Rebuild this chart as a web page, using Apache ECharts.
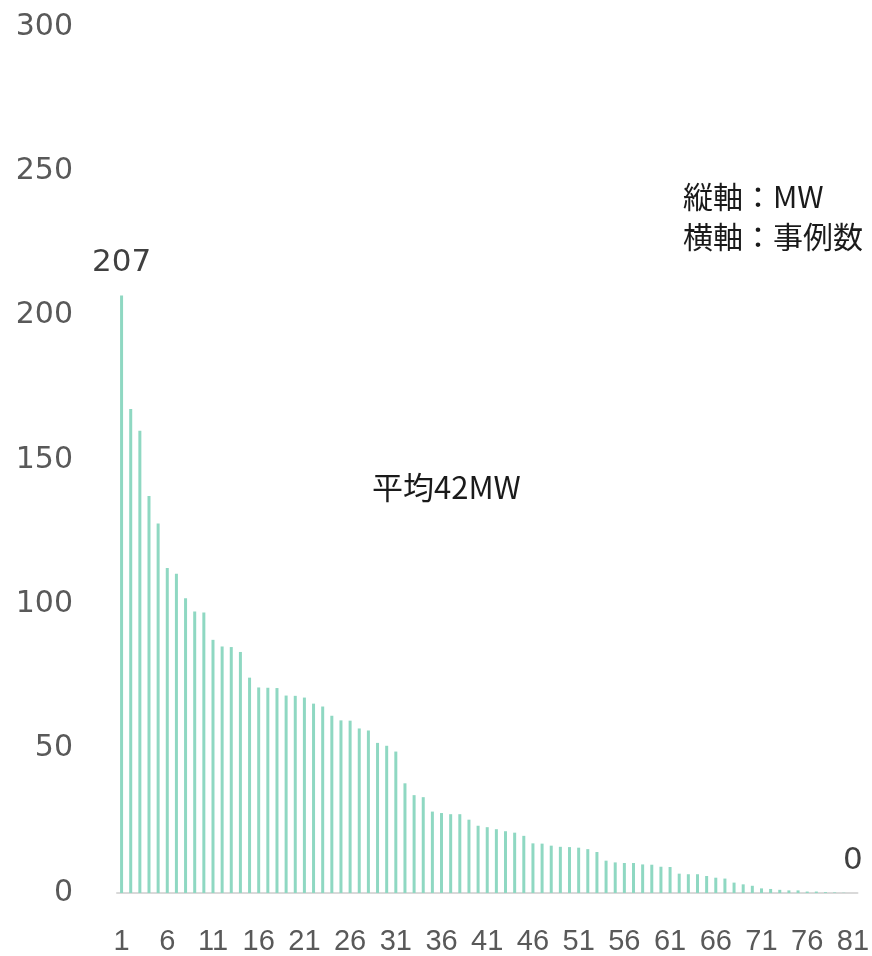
<!DOCTYPE html>
<html>
<head>
<meta charset="utf-8">
<script src="https://cdn.jsdelivr.net/npm/echarts@6/dist/echarts.min.js"></script>
<style>
html,body{margin:0;padding:0;background:#fff;}
#c{width:872px;height:956px;}
</style>
</head>
<body>
<div id="c"></div>
<script>
const categories = Array.from({length: 81}, (_, i) => String(i + 1));
const values = [
  207, 167.7, 160.1, 137.5, 128, 112.6, 110.6, 102.1, 97.5, 97.2,
  87.7, 85.4, 85.2, 83.5, 74.6, 71.2, 71.1, 71, 68.4, 68.3,
  67.7, 65.6, 64.6, 61.4, 59.8, 59.7, 57, 56.3, 52, 51,
  49, 38, 33.9, 33.2, 28.2, 27.7, 27.3, 27.3, 25.4, 23.3,
  22.8, 22.1, 21.4, 20.9, 19.8, 17.2, 17.1, 16.4, 16, 15.9,
  15.7, 15.2, 14.2, 11.2, 10.6, 10.4, 10.4, 9.9, 9.8, 9.1,
  9.0, 6.7, 6.5, 6.5, 5.9, 5.3, 5.0, 3.6, 3.0, 2.5,
  1.6, 1.4, 1.1, 0.9, 0.9, 0.5, 0.5, 0.3, 0.2, 0.1,
  0
];
const labeledIdx = [0, 80];
const yTicks = {min: 0, max: 300, interval: 50};
const axisNote = ['縦軸：MW', '横軸：事例数'];
const averageNote = '平均42MW';

const FONT = '"DejaVu Sans", "Noto Sans CJK JP", sans-serif';
const CJK = '"Noto Sans CJK JP", sans-serif';
const chart = echarts.init(document.getElementById('c'), null, {renderer: 'canvas'});

const seriesData = values.map((v, i) => labeledIdx.includes(i)
  ? {value: v, label: {show: true, position: 'top', distance: 17, color: '#404040', fontSize: 31, fontFamily: FONT, formatter: (p) => String(Math.round(p.value))}}
  : v);

chart.setOption({
  animation: false,
  backgroundColor: '#ffffff',
  grid: {left: 117, right: 10, top: 27, bottom: 60.5, containLabel: false},
  xAxis: {
    type: 'category',
    data: categories,
    boundaryGap: true,
    axisLine: {show: true, lineStyle: {color: '#d9d9d9', width: 2}},
    axisTick: {show: false},
    axisLabel: {interval: 4, color: '#595959', fontSize: 29, fontFamily: '"Liberation Sans", sans-serif', margin: 34}
  },
  yAxis: {
    type: 'value',
    min: yTicks.min, max: yTicks.max, interval: yTicks.interval,
    axisLine: {show: false},
    axisTick: {show: false},
    splitLine: {show: false},
    axisLabel: {color: '#595959', fontSize: 30, fontFamily: FONT, margin: 44, padding: [0, 0, 10, 0]}
  },
  series: [{
    type: 'bar',
    data: seriesData,
    barWidth: 3,
    itemStyle: {color: '#8fd8c2'}
  }],
  graphic: [
    {type: 'text', x: 372, y: 487, style: {text: averageNote, fill: '#1a1a1a', font: '31px ' + CJK, textVerticalAlign: 'middle', verticalAlign: 'middle'}},
    {type: 'text', x: 683, y: 197, style: {text: axisNote[0], fill: '#1a1a1a', font: '30px ' + CJK, textVerticalAlign: 'middle', verticalAlign: 'middle'}},
    {type: 'text', x: 683, y: 237, style: {text: axisNote[1], fill: '#1a1a1a', font: '30px ' + CJK, textVerticalAlign: 'middle', verticalAlign: 'middle'}}
  ]
});
</script>
</body>
</html>
